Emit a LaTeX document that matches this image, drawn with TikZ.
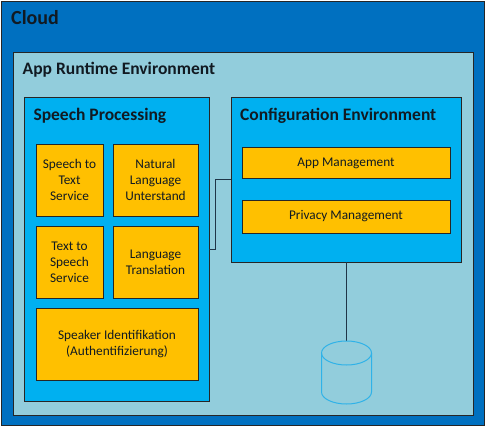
\documentclass[tikz,border=0pt]{standalone}
\usepackage{fontspec}
\setmainfont{Carlito}
\definecolor{cloudc}{HTML}{0070C0}
\definecolor{runc}{HTML}{92CDDC}
\definecolor{spc}{HTML}{00B0F0}
\definecolor{orc}{HTML}{FFC000}
\definecolor{linec}{HTML}{1F3547}
\definecolor{cylc}{HTML}{2FB2E8}
\definecolor{txtc}{HTML}{111A22}
\tikzset{
  box/.style={draw=black!85, line width=0.9pt, anchor=north west, inner sep=0pt, outer sep=0pt},
  svc/.style={box, fill=orc},
  svct/.style={align=center, font=\fontsize{13.3}{16}\selectfont, text=txtc},
  ttl/.style={anchor=base west, inner sep=0pt, font=\bfseries\fontsize{17.5}{20}\selectfont, text=txtc},
  conn/.style={draw=linec, line width=0.9pt},
}
\begin{document}
\begin{tikzpicture}[x=1pt,y=-1pt]
\useasboundingbox (0,0) rectangle (486,428);
% Cloud
\node[box, fill=cloudc, minimum width=483pt, minimum height=424pt] (cloud) at (1,1) {};
\node[ttl, font=\bfseries\fontsize{20}{24}\selectfont] (cloudt) at (11,25) {Cloud};
% App runtime
\node[box, fill=runc, minimum width=460pt, minimum height=363.5pt] (run) at (13,52) {};
\node[ttl] (runt) at (22.5,74.5) {App Runtime Environment};
% Speech processing
\node[box, fill=spc, minimum width=184.5pt, minimum height=304.5pt] (sp) at (24.5,97.3) {};
\node[ttl] (spt) at (33.3,120) {Speech Processing};
\node[svc, minimum width=67pt, minimum height=72pt] (stt) at (36,144) {};
\node[svct] at (stt.center) {Speech to\\Text\\Service};
\node[svc, minimum width=85pt, minimum height=72pt] (nlu) at (113,144) {};
\node[svct] at (nlu.center) {Natural\\Language\\Unterstand};
\node[svc, minimum width=67pt, minimum height=72pt] (tts) at (36,226) {};
\node[svct] at (tts.center) {Text to\\Speech\\Service};
\node[svc, minimum width=85pt, minimum height=72pt] (lt) at (113,226) {};
\node[svct] at (lt.center) {Language\\Translation};
\node[svc, minimum width=162pt, minimum height=72pt] (spk) at (36,308) {};
\node[svct] at (spk.center) {Speaker Identifikation\\(Authentifizierung)};
% Configuration
\node[box, fill=spc, minimum width=230.5pt, minimum height=165pt] (cfg) at (231,97.3) {};
\node[ttl] (cfgt) at (240,120) {Configuration Environment};
\node[svc, minimum width=208pt, minimum height=31pt] (am) at (242,147) {};
\node[svct] at ([yshift=-1pt]am.center) {App Management};
\node[svc, minimum width=208pt, minimum height=33pt] (pm) at (242,200) {};
\node[svct] at (pm.center) {Privacy Management};
% connector speech -> config
\coordinate (c1) at (215,249);
\coordinate (c2) at (215,179);
\draw[conn] (c1 -| sp.east) -- (c1) -- (c2) -- (c2 -| cfg.west);
% database
\coordinate (dbtop) at (346.5,341);
\draw[conn] (dbtop |- cfg.south) -- (dbtop);
\draw[cylc, line width=1pt] (346.5,353) ellipse [x radius=25, y radius=12];
\draw[cylc, line width=1pt] (321.5,353) -- (321.5,392) arc[start angle=180, end angle=360, x radius=25, y radius=-12] -- (371.5,353);
\end{tikzpicture}
\end{document}
